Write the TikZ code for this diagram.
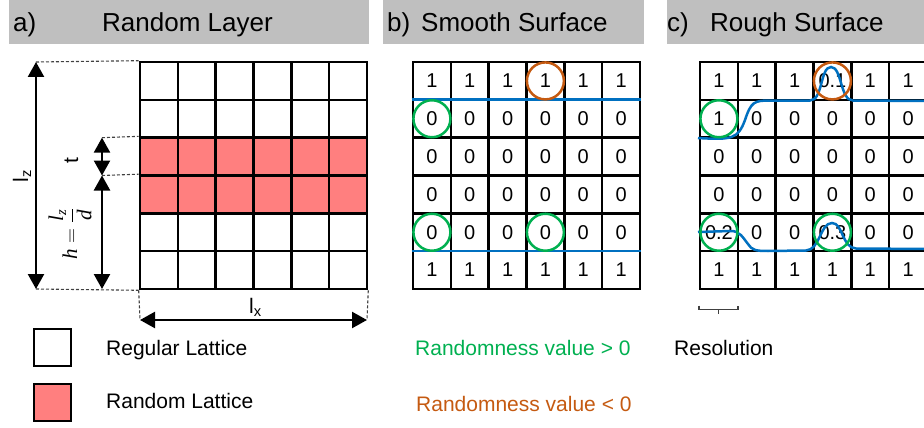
\documentclass[tikz,border=0pt]{standalone}
\usepackage{fontspec}
\setmainfont{Liberation Sans}
\newfontfamily\formulafont{Liberation Serif}
\usetikzlibrary{arrows.meta}
\definecolor{hdrgray}{HTML}{BFBFBF}
\definecolor{randred}{HTML}{FF7F7F}
\definecolor{surfblue}{HTML}{0070C0}
\definecolor{posgreen}{HTML}{00B050}
\definecolor{negorange}{HTML}{C55A11}
\definecolor{guidegray}{HTML}{404040}
\newcommand{\fvar}[1]{\hbox{\formulafont\itshape #1}}

\begin{document}
\begin{tikzpicture}[x=1pt,y=-1pt,
  cell/.style={draw=black, line width=2.6pt, minimum size=37.83pt, inner sep=0pt,
    font=\fontsize{20}{24}\selectfont},
  randcell/.style={cell, fill=randred},
  hdrbar/.style={fill=hdrgray, inner sep=0pt, minimum height=44pt, anchor=north west},
  hdrtext/.style={inner sep=0pt, anchor=base west, font=\fontsize{26}{30}\selectfont},
  legtext/.style={inner sep=0pt, anchor=base west, font=\fontsize{21}{25}\selectfont},
  dimarrow/.style={line width=2.4pt,
    {Triangle[length=15pt,width=16pt]}-{Triangle[length=15pt,width=16pt]}},
  guide/.style={guidegray, line width=1.1pt, dash pattern=on 3pt off 2pt},
  surface/.style={surfblue, line width=2.5pt},
  ring/.style={line width=2.5pt, circle, minimum size=37pt, inner sep=0pt},
  posring/.style={ring, draw=posgreen},
  negring/.style={ring, draw=negorange},
  legbox/.style={draw=black, line width=2.4pt, minimum size=37pt, inner sep=0pt},
  bracket/.style={guidegray, line width=1.1pt},
]
\path[use as bounding box] (0,0) rectangle (924,428);
\clip (0,0) rectangle (924,428);

% ---------- header bars ----------
\node[hdrbar, minimum width=360pt] (barA) at (9,0) {};
\node[hdrbar, minimum width=261pt] (barB) at (383,0) {};
\node[hdrbar, minimum width=260pt] (barC) at (667,0) {};
\node[hdrtext] (ta1) at (13,32) {a)};
\node[hdrtext] (ta2) at (102,32) {Random Layer};
\node[hdrtext] (tb1) at (387,32) {b)};
\node[hdrtext] (tb2) at (421,32) {Smooth Surface};
\node[hdrtext] (tc1) at (667,32) {c)};
\node[hdrtext] (tc2) at (710,32) {Rough Surface};

% ---------- a) lattice with random layer ----------
\foreach \r in {0,1,4,5}{
  \foreach \c in {0,...,5}{
    \node[cell] (a-\r-\c) at ({140+(\c+0.5)*37.83},{62+(\r+0.5)*37.83}) {};
  }
}
\foreach \r in {2,3}{
  \foreach \c in {0,...,5}{
    \node[randcell] (a-\r-\c) at ({140+(\c+0.5)*37.83},{62+(\r+0.5)*37.83}) {};
  }
}

% dimensions
\coordinate (lzT) at (36,62);
\coordinate (lzB) at (36,289);
\coordinate (tT) at (102,137.66);
\coordinate (tB) at (102,175.5);
\coordinate (hB) at (102,289);
\coordinate (lxL) at (140,320);
\coordinate (lxR) at (367,320);

\draw[guide] (lzT) -- (a-0-0.north west);
\draw[guide] (lzB) -- (a-5-0.south west);
\draw[guide] (tT) -- (a-2-0.north west);
\draw[guide] (tB) -- (a-3-0.north west);
\draw[guide] (a-5-0.south west) -- (lxL);
\draw[guide] (a-5-5.south east) -- (lxR);

\draw[dimarrow] (lzT) -- (lzB);
\draw[dimarrow] (tT) -- (tB);
\draw[dimarrow] (tB) -- (hB);
\draw[dimarrow] (lxL) -- (lxR);

\node[rotate=90, anchor=base, inner sep=0pt, font=\fontsize{21}{25}\selectfont]
  (lzlab) at (28,176) {l\textsubscript{z}};
\node[rotate=90, anchor=base, inner sep=0pt, font=\fontsize{21}{25}\selectfont]
  (tlab) at (78,161) {t};
\node[rotate=90, inner sep=0pt, font=\fontsize{21}{25}\selectfont]
  (hlab) at (70,234) {$\displaystyle \fvar{h}=\frac{\fvar{l\textsubscript{z}}}{\fvar{d}}$};
\node[legtext] (lxlab) at (249,313) {l\textsubscript{x}};

% legend
\node[legbox] (regbox) at (52.5,347.5) {};
\node[legbox, fill=randred] (randbox) at (52.5,402.5) {};
\node[legtext] (regtxt) at (106,355) {Regular Lattice};
\node[legtext] (randtxt) at (106,408) {Random Lattice};

% ---------- b) smooth surface ----------
\foreach \r/\v in {0/1,1/0,2/0,3/0,4/0,5/1}{
  \foreach \c in {0,...,5}{
    \node[cell] (b-\r-\c) at ({413+(\c+0.5)*37.83},{62+(\r+0.5)*37.83}) {\v};
  }
}
\draw[surface] ([yshift=-1pt]b-1-0.north west) -- ([yshift=-1pt]b-1-5.north east);
\draw[surface] ([yshift=-1pt]b-5-0.north west) -- ([yshift=-1pt]b-5-5.north east);

\node[negring] (bn1) at (b-0-3) {};
\node[posring] (bp1) at (b-1-0) {};
\node[posring] (bp2) at (b-4-0) {};
\node[posring] (bp3) at (b-4-3) {};

\node[legtext, text=posgreen] (postxt) at (415,355) {Randomness value > 0};
\node[legtext, text=negorange] (negtxt) at (416,411) {Randomness value < 0};

% ---------- c) rough surface ----------
\foreach \r/\vals in {0/{1,1,1,0.1,1,1}, 1/{1,0,0,0,0,0}, 2/{0,0,0,0,0,0},
                      3/{0,0,0,0,0,0}, 4/{0.2,0,0,0.3,0,0}, 5/{1,1,1,1,1,1}}{
  \foreach \v [count=\c from 0] in \vals{
    \node[cell] (c-\r-\c) at ({700+(\c+0.5)*37.83},{62+(\r+0.5)*37.83}) {\v};
  }
}

% upper rough interface
\draw[surface] (698,138) .. controls (732,140) and (738,139) .. (745,120)
  .. controls (751,102) and (754,100.5) .. (770,100.5) -- (810,100.5)
  .. controls (823,100.5) and (820,67) .. (831,67)
  .. controls (842,67) and (840,100.5) .. (853,100.5) -- (926,101);
% lower rough interface
\draw[surface] (698,232) -- (730,231)
  .. controls (740,230.5) and (743,238) .. (748,244)
  .. controls (752,250) and (755,251) .. (768,251) -- (806,250.5)
  .. controls (820,250) and (820,223) .. (832,223)
  .. controls (843,223) and (842,248) .. (856,248.5) -- (926,249);

\node[negring] (cn1) at (c-0-3) {};
\node[posring] (cp1) at (c-1-0) {};
\node[posring] (cp2) at (c-4-0) {};
\node[posring] (cp3) at (c-4-3) {};

% resolution bracket
\coordinate (resL) at (699,305.5);
\coordinate (resR) at (738,305.5);
\coordinate (resM) at (718.5,309.5);
\draw[bracket] (resL) -- (resL |- resM) -- (resR |- resM) -- (resR);
\draw[bracket, line width=1.8pt] (resM) -- ++(0,4.5);
\node[legtext] (restxt) at (674,355) {Resolution};

\end{tikzpicture}
\end{document}
